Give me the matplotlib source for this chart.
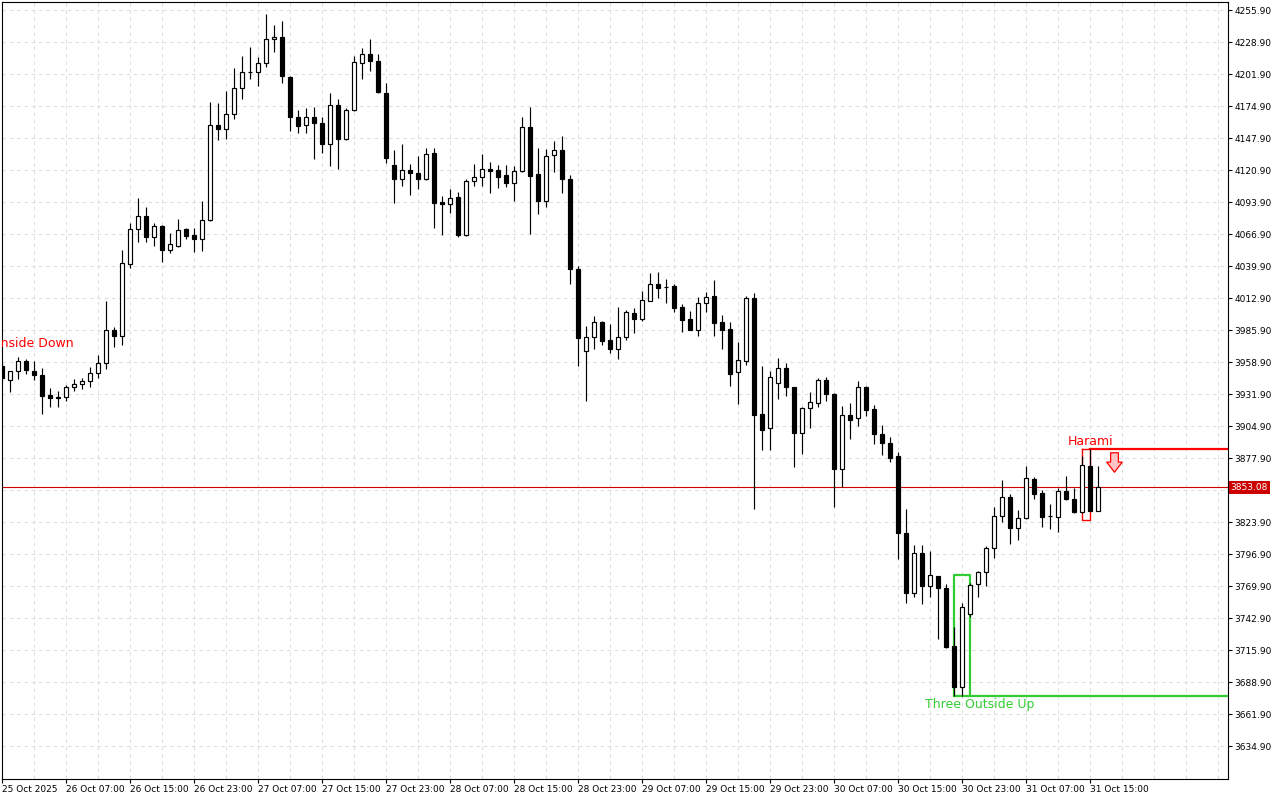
import matplotlib
matplotlib.use("Agg")
import matplotlib.pyplot as plt
import matplotlib.transforms as mtransforms
from matplotlib.path import Path
import numpy as np

# hourly candles, 25 Oct 23:00 .. 31 Oct
opens = [3955.5, 3943.7, 3951.3, 3959.7, 3951.3, 3947.9, 3931.1, 3929.6, 3929.4, 3937.8,
         3940.3, 3942.9, 3949.6, 3958.1, 3985.9, 3980.8, 4041.6, 4071.1, 4082.1, 4064.4,
         4073.7, 4053.4, 4056.8, 4071.1, 4066.1, 4062.7, 4078.7, 4158.9, 4155.5, 4168.2,
         4190.1, 4203.4, 4203.6, 4211.2, 4231.4, 4233.1, 4199.4, 4165.6, 4158.9, 4165.6,
         4160.6, 4142.8, 4175.7, 4147.1, 4171.5, 4211.2, 4218.8, 4212.9, 4185.9, 4125.1,
         4113.3, 4120.9, 4118.4, 4113.3, 4135.2, 4093.9, 4092.2, 4098.1, 4066.1, 4111.6,
         4115.0, 4121.7, 4120.9, 4116.7, 4109.9, 4120.1, 4157.2, 4117.5, 4094.8, 4133.6,
         4137.8, 4113.3, 4037.4, 3968.2, 3980.0, 3992.6, 3977.5, 3969.9, 3980.0, 4000.2,
         3995.2, 4010.4, 4024.7, 4021.8, 4023.0, 4005.3, 3995.2, 3985.9, 4008.7, 4014.6,
         3992.6, 3986.8, 3950.5, 3959.7, 4012.9, 3915.0, 3903.2, 3941.2, 3953.8, 3937.8,
         3899.0, 3920.1, 3924.3, 3943.7, 3931.9, 3868.6, 3914.2, 3911.7, 3937.8, 3919.2,
         3898.2, 3890.6, 3879.6, 3814.6, 3764.0, 3797.7, 3769.9, 3778.3, 3768.2, 3719.3,
         3684.7, 3746.3, 3771.6, 3781.7, 3802.0, 3829.0, 3845.0, 3818.8, 3827.3, 3860.2,
         3848.4, 3828.8, 3828.1, 3850.1, 3843.3, 3832.3, 3871.1, 3833.2]
highs = [3958.9, 3951.5, 3963.1, 3961.4, 3959.7, 3953.8, 3937.0, 3934.4, 3939.5, 3944.6,
         3945.4, 3954.7, 3964.8, 4010.4, 3988.4, 4053.4, 4076.2, 4097.3, 4089.7, 4076.2,
         4074.5, 4067.7, 4079.6, 4072.0, 4072.0, 4094.8, 4178.3, 4177.4, 4187.6, 4207.0,
         4217.1, 4224.7, 4216.2, 4252.5, 4243.2, 4246.6, 4200.2, 4171.5, 4173.2, 4174.1,
         4165.6, 4185.9, 4180.8, 4173.2, 4217.1, 4223.8, 4231.4, 4218.8, 4194.3, 4137.8,
         4142.8, 4126.0, 4132.7, 4139.5, 4139.5, 4099.0, 4104.9, 4102.3, 4113.3, 4126.0,
         4134.4, 4127.6, 4125.1, 4125.1, 4124.3, 4165.6, 4174.1, 4139.5, 4138.6, 4145.4,
         4149.6, 4116.7, 4039.9, 3989.3, 3997.7, 3993.5, 3991.0, 4005.3, 4002.8, 4004.5,
         4018.8, 4034.0, 4034.8, 4028.9, 4024.7, 4007.8, 4001.9, 4013.7, 4018.0, 4028.1,
         3998.6, 3992.6, 3975.8, 4014.6, 4017.1, 3955.5, 3951.3, 3962.3, 3958.1, 3938.2,
         3920.9, 3933.6, 3945.4, 3946.2, 3932.7, 3921.8, 3924.3, 3942.9, 3938.3, 3922.6,
         3905.8, 3895.6, 3883.0, 3834.9, 3804.5, 3804.5, 3799.4, 3778.6, 3771.6, 3735.3,
         3755.6, 3772.4, 3782.6, 3803.6, 3836.6, 3859.3, 3847.5, 3834.0, 3871.1, 3861.9,
         3850.9, 3839.1, 3852.6, 3862.7, 3852.6, 3879.6, 3885.5, 3871.1]
lows = [3942.0, 3933.6, 3944.6, 3948.8, 3943.7, 3915.0, 3920.9, 3920.9, 3926.0, 3934.4,
        3936.1, 3937.8, 3945.4, 3953.0, 3971.6, 3973.2, 4038.2, 4060.1, 4060.1, 4056.8,
        4043.3, 4050.9, 4055.9, 4062.7, 4051.7, 4052.6, 4077.9, 4146.2, 4147.1, 4163.9,
        4180.8, 4197.7, 4191.8, 4207.8, 4220.5, 4194.3, 4153.8, 4152.1, 4152.1, 4130.2,
        4135.2, 4124.3, 4121.7, 4146.2, 4171.0, 4197.7, 4204.4, 4186.0, 4126.8, 4093.1,
        4107.4, 4099.8, 4104.9, 4112.8, 4072.0, 4066.1, 4084.6, 4064.4, 4065.2, 4107.4,
        4107.4, 4101.5, 4105.7, 4106.6, 4094.8, 4119.5, 4066.9, 4083.8, 4089.7, 4119.2,
        4101.5, 4024.7, 3955.5, 3926.0, 3969.9, 3973.2, 3966.5, 3961.4, 3977.5, 3983.4,
        3993.5, 4010.0, 4012.9, 4008.7, 4001.1, 3984.2, 3985.5, 3980.8, 4001.1, 3980.8,
        3969.9, 3938.7, 3923.5, 3956.4, 3834.9, 3884.7, 3884.7, 3927.7, 3930.2, 3870.3,
        3881.3, 3903.2, 3920.9, 3926.0, 3836.6, 3853.4, 3893.9, 3904.9, 3913.3, 3889.7,
        3880.4, 3874.5, 3792.7, 3755.6, 3760.6, 3754.7, 3760.6, 3725.2, 3717.8, 3677.1,
        3677.1, 3743.7, 3760.6, 3769.9, 3793.5, 3823.9, 3805.3, 3808.7, 3826.4, 3843.3,
        3819.7, 3818.0, 3815.5, 3842.5, 3831.8, 3831.8, 3832.8, 3832.8]
closes = [3945.4, 3951.3, 3959.7, 3952.2, 3947.9, 3930.2, 3928.5, 3928.5, 3937.8, 3940.3,
          3942.9, 3949.6, 3958.1, 3985.9, 3980.8, 4042.4, 4071.1, 4082.1, 4064.4, 4073.7,
          4053.4, 4058.5, 4070.3, 4065.2, 4062.7, 4078.7, 4158.9, 4155.5, 4168.2, 4190.1,
          4203.6, 4203.9, 4211.2, 4231.4, 4233.1, 4200.2, 4165.6, 4158.0, 4165.6, 4160.6,
          4142.8, 4175.7, 4147.1, 4171.5, 4212.0, 4218.8, 4212.9, 4186.7, 4131.0, 4113.3,
          4120.9, 4118.4, 4113.3, 4134.4, 4093.1, 4092.2, 4097.3, 4066.1, 4111.6, 4115.0,
          4121.7, 4120.1, 4115.0, 4109.9, 4120.1, 4157.2, 4115.8, 4094.8, 4132.7, 4137.8,
          4113.3, 4037.4, 3979.2, 3980.0, 3992.6, 3976.6, 3969.9, 3980.0, 4001.1, 3995.2,
          4011.2, 4024.7, 4021.3, 4022.1, 4004.5, 3994.3, 3985.9, 4008.7, 4013.7, 3991.8,
          3985.9, 3948.8, 3960.6, 4012.9, 3914.2, 3901.5, 3946.2, 3953.8, 3937.8, 3899.0,
          3920.1, 3925.2, 3943.7, 3931.9, 3868.6, 3914.2, 3910.0, 3937.8, 3918.4, 3898.2,
          3890.6, 3877.9, 3814.6, 3764.0, 3797.7, 3769.9, 3779.2, 3768.2, 3718.4, 3684.7,
          3752.2, 3770.7, 3781.7, 3802.0, 3829.0, 3845.0, 3818.8, 3827.3, 3861.0, 3847.5,
          3828.1, 3829.1, 3850.1, 3843.3, 3832.3, 3872.0, 3833.2, 3853.08]

date_labels = ["25 Oct 2025", "26 Oct 07:00", "26 Oct 15:00", "26 Oct 23:00", "27 Oct 07:00",
               "27 Oct 15:00", "27 Oct 23:00", "28 Oct 07:00", "28 Oct 15:00", "28 Oct 23:00",
               "29 Oct 07:00", "29 Oct 15:00", "29 Oct 23:00", "30 Oct 07:00", "30 Oct 15:00",
               "30 Oct 23:00", "31 Oct 07:00", "31 Oct 15:00"]
price_labels = [4255.90, 4228.90, 4201.90, 4174.90, 4147.90, 4120.90, 4093.90, 4066.90,
                4039.90, 4012.90, 3985.90, 3958.90, 3931.90, 3904.90, 3877.90, 3850.90,
                3823.90, 3796.90, 3769.90, 3742.90, 3715.90, 3688.90, 3661.90, 3634.90]

# pattern markers
harami_bar, harami_top, harami_bottom = 135, 3885.5, 3825.6
tou_bar, tou_top, tou_bottom = 119, 3779.2, 3677.1

fig = plt.figure(figsize=(12.8, 8), dpi=100)
ax = fig.add_axes([2 / 1280, 21 / 800, 1226 / 1280, 777 / 800])
ax.set_xlim(0, 153.25)
ax.set_ylim(3607.06, 4262.65)

grid_kw = dict(color='#dedede', linewidth=0.75, dashes=(3.5, 3.5), zorder=0)
for k in range(4, 154, 4):
    ax.axvline(k, **grid_kw)
for p in price_labels:
    ax.axhline(p, **grid_kw)

# current price line
ax.axhline(closes[-1], color='#d40000', linewidth=0.8, zorder=1)

# patterns (behind candles)
ax.plot([harami_bar, harami_bar, harami_bar + 1, harami_bar + 1, harami_bar],
        [harami_top, harami_bottom, harami_bottom, harami_top, harami_top],
        color='red', linewidth=1.0, zorder=2)
ax.plot([harami_bar + 1, 153.25], [harami_top, harami_top], color='red', linewidth=1.6, zorder=2)
ax.plot([tou_bar, tou_bar, tou_bar + 2, tou_bar + 2],
        [tou_bottom, tou_top, tou_top, tou_bottom], color='#32cd32', linewidth=1.6, zorder=2)
ax.plot([tou_bar, 153.25], [tou_bottom, tou_bottom], color='#32cd32', linewidth=1.6, zorder=2)

# candles
idx = np.arange(len(opens))
o = np.array(opens)
c = np.array(closes)
up = c >= o
body = np.maximum(np.abs(c - o), 0.3)
ax.vlines(idx, lows, highs, color='black', linewidth=0.85, zorder=3)
ax.bar(idx[up], body[up], bottom=o[up], width=0.62, facecolor='white',
       edgecolor='black', linewidth=0.85, zorder=4)
ax.bar(idx[~up], body[~up], bottom=c[~up], width=0.62, facecolor='black',
       edgecolor='black', linewidth=0.85, zorder=4)

# down arrow after harami
arrow = Path([(-0.2, 0.5), (0.2, 0.5), (0.2, 0.02), (0.4, 0.02), (0.0, -0.5),
              (-0.4, 0.02), (-0.2, 0.02), (-0.2, 0.5)], closed=True)
ax.plot([139], [3874.5], marker=arrow, markersize=14, markerfacecolor='#ffc4c4',
        markeredgecolor='red', markeredgewidth=0.9, linestyle='none', zorder=5)

ax.text(136.1, 3892.2, "Harami", color='red', fontsize=9, ha='center', va='center', zorder=6)
ax.text(122.25, 3670.3, "Three Outside Up", color='#32cd32', fontsize=9,
        ha='center', va='center', zorder=6)
ax.text(8.9, 3974.9, "Inside Down", color='red', fontsize=9, ha='right', va='center',
        clip_on=True, zorder=6)

# axes styling
for s in ax.spines.values():
    s.set_linewidth(0.8)
    s.set_color('black')
ax.yaxis.tick_right()
ax.set_yticks(price_labels)
# the label under the current-price box is hidden by it
ax.set_yticklabels(["" if abs(p - closes[-1]) < 10 else f"{p:.2f}" for p in price_labels])
ax.set_xticks(range(0, 8 * len(date_labels), 8))
ax.set_xticklabels(date_labels)
for lbl in ax.get_xticklabels():
    lbl.set_horizontalalignment('left')
ax.tick_params(axis='y', direction='out', length=3, width=0.8, pad=1.5, labelsize=6.5)
ax.tick_params(axis='x', direction='out', length=3, width=0.8, pad=1.5, labelsize=6.5)

trans = mtransforms.blended_transform_factory(ax.transAxes, ax.transData)
ax.text(1.002, closes[-1], f"{closes[-1]:.2f}", transform=trans, ha='left', va='center',
        color='white', fontsize=6.5, clip_on=False, zorder=10,
        bbox=dict(boxstyle='square,pad=0.2', facecolor='#cc0000', edgecolor='none'))

fig.savefig("out.png", dpi=100)
